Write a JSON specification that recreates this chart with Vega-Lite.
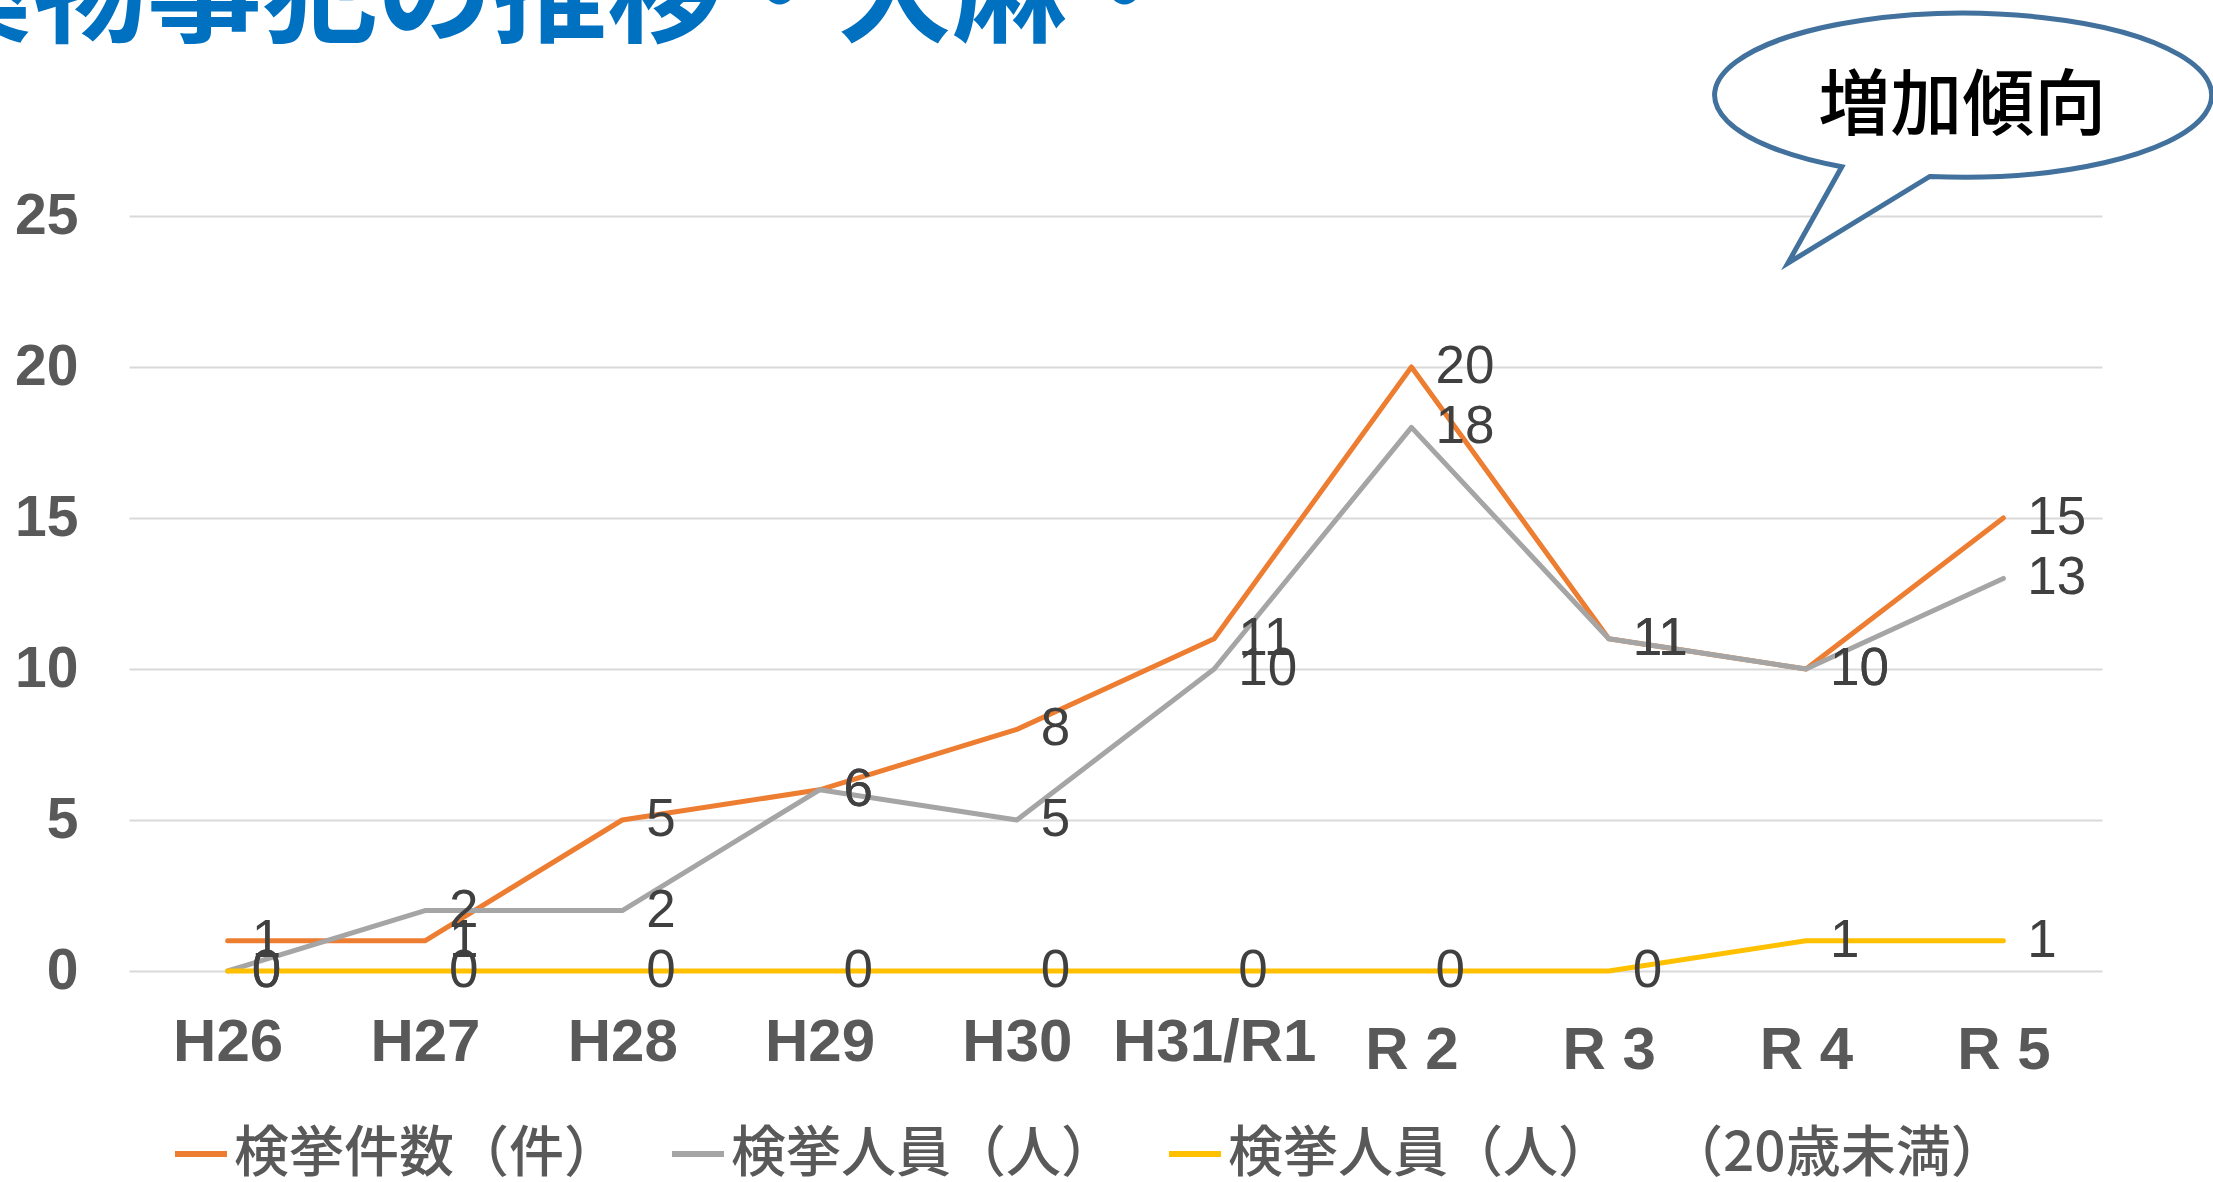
{
  "$schema": "https://vega.github.io/schema/vega-lite/v6.json",
  "width": 1973,
  "height": 755,
  "autosize": {"type": "none"},
  "padding": {"left": 129, "top": 216, "right": 111, "bottom": 211},
  "background": "white",
  "title": {
    "text": "薬物事犯の推移・大麻・",
    "anchor": "start",
    "frame": "group",
    "orient": "top",
    "fontSize": 115,
    "font": "Noto Sans CJK JP",
    "fontWeight": "bold",
    "color": "#0070C0",
    "dx": -212,
    "offset": -145,
    "baseline": "alphabetic",
    "limit": 3000
  },
  "config": {"view": {"stroke": null}},
  "data": {
    "values": [
      {"year": "H26", "series": "検挙件数（件）", "value": 1},
      {"year": "H27", "series": "検挙件数（件）", "value": 1},
      {"year": "H28", "series": "検挙件数（件）", "value": 5},
      {"year": "H29", "series": "検挙件数（件）", "value": 6},
      {"year": "H30", "series": "検挙件数（件）", "value": 8},
      {"year": "H31/R1", "series": "検挙件数（件）", "value": 11},
      {"year": "R 2", "series": "検挙件数（件）", "value": 20},
      {"year": "R 3", "series": "検挙件数（件）", "value": 11},
      {"year": "R 4", "series": "検挙件数（件）", "value": 10},
      {"year": "R 5", "series": "検挙件数（件）", "value": 15},
      {"year": "H26", "series": "検挙人員（人）", "value": 0},
      {"year": "H27", "series": "検挙人員（人）", "value": 2},
      {"year": "H28", "series": "検挙人員（人）", "value": 2},
      {"year": "H29", "series": "検挙人員（人）", "value": 6},
      {"year": "H30", "series": "検挙人員（人）", "value": 5},
      {"year": "H31/R1", "series": "検挙人員（人）", "value": 10},
      {"year": "R 2", "series": "検挙人員（人）", "value": 18},
      {"year": "R 3", "series": "検挙人員（人）", "value": 11},
      {"year": "R 4", "series": "検挙人員（人）", "value": 10},
      {"year": "R 5", "series": "検挙人員（人）", "value": 13},
      {"year": "H26", "series": "検挙人員（人）　\u2002（20歳未満）", "value": 0},
      {"year": "H27", "series": "検挙人員（人）　\u2002（20歳未満）", "value": 0},
      {"year": "H28", "series": "検挙人員（人）　\u2002（20歳未満）", "value": 0},
      {"year": "H29", "series": "検挙人員（人）　\u2002（20歳未満）", "value": 0},
      {"year": "H30", "series": "検挙人員（人）　\u2002（20歳未満）", "value": 0},
      {"year": "H31/R1", "series": "検挙人員（人）　\u2002（20歳未満）", "value": 0},
      {"year": "R 2", "series": "検挙人員（人）　\u2002（20歳未満）", "value": 0},
      {"year": "R 3", "series": "検挙人員（人）　\u2002（20歳未満）", "value": 0},
      {"year": "R 4", "series": "検挙人員（人）　\u2002（20歳未満）", "value": 1},
      {"year": "R 5", "series": "検挙人員（人）　\u2002（20歳未満）", "value": 1}
    ]
  },
  "layer": [
    {
      "mark": {"type": "line", "strokeWidth": 5, "strokeCap": "round", "strokeJoin": "round"},
      "encoding": {
        "x": {
          "field": "year",
          "type": "nominal",
          "scale": {"type": "point", "padding": 0.5, "domain": ["H26", "H27", "H28", "H29", "H30", "H31/R1", "R 2", "R 3", "R 4", "R 5"]},
          "axis": {
            "title": null,
            "labelAngle": 0,
            "domain": false,
            "ticks": false,
            "tickSize": 0,
            "grid": false,
            "labelLimit": 600,
            "labelFont": "Liberation Sans Narrow, Liberation Sans",
            "labelFontWeight": "bold",
            "labelFontSize": 60,
            "labelColor": "#595959",
            "labelPadding": {"condition": {"test": "indexof(datum.label, 'R ') === 0", "value": 50}, "value": 42}
          }
        },
        "y": {
          "field": "value",
          "type": "quantitative",
          "scale": {"domain": [0, 25], "nice": false},
          "axis": {
            "title": null,
            "values": [0, 5, 10, 15, 20, 25],
            "domain": false,
            "ticks": false,
            "tickSize": 0,
            "labelFont": "Liberation Sans",
            "labelFontWeight": "bold",
            "labelFontSize": 57,
            "labelColor": "#595959",
            "labelPadding": 51,
            "gridColor": "#D9D9D9",
            "gridWidth": 2
          }
        },
        "color": {
          "field": "series",
          "type": "nominal",
          "scale": {
            "domain": ["検挙件数（件）", "検挙人員（人）", "検挙人員（人）　\u2002（20歳未満）"],
            "range": ["#ED7D31", "#A5A5A5", "#FFC000"]
          },
          "legend": {
            "title": null,
            "orient": "none",
            "legendX": 43,
            "legendY": 909,
            "direction": "horizontal",
            "symbolType": "stroke",
            "symbolSize": 2704,
            "symbolStrokeWidth": 6,
            "labelFont": "Noto Sans CJK JP",
            "labelFontSize": 55,
            "labelFontWeight": 500,
            "labelColor": "#595959",
            "labelOffset": 4,
            "labelLimit": 2000,
            "columnPadding": 40,
            "padding": 0
          }
        }
      }
    },
    {
      "mark": {"type": "text", "align": "left", "baseline": "middle", "dx": 24, "fontSize": 53, "font": "Liberation Sans Narrow, Liberation Sans", "color": "#404040"},
      "encoding": {
        "x": {"field": "year", "type": "nominal"},
        "y": {"field": "value", "type": "quantitative"},
        "text": {"field": "value", "type": "quantitative"}
      }
    },
    {
      "data": {"values": [{"note": "増加傾向"}]},
      "mark": {
        "type": "point",
        "shape": "M -0.296 0.327 A 1 0.33 0 1 0 -0.650 0.288 L -0.867 0.676 Z",
        "size": 247009,
        "filled": true,
        "fill": "white",
        "stroke": "#41719C",
        "strokeWidth": 5,
        "opacity": 1
      },
      "encoding": {
        "x": {"datum": "R 5"},
        "y": {"datum": 29}
      }
    },
    {
      "data": {"values": [{"note": "増加傾向"}]},
      "mark": {"type": "text", "align": "center", "baseline": "middle", "dx": -41, "dy": 12, "fontSize": 72, "font": "Noto Sans CJK JP", "fontWeight": 500, "color": "#000000"},
      "encoding": {
        "x": {"datum": "R 5"},
        "y": {"datum": 29},
        "text": {"field": "note"}
      }
    }
  ]
}
